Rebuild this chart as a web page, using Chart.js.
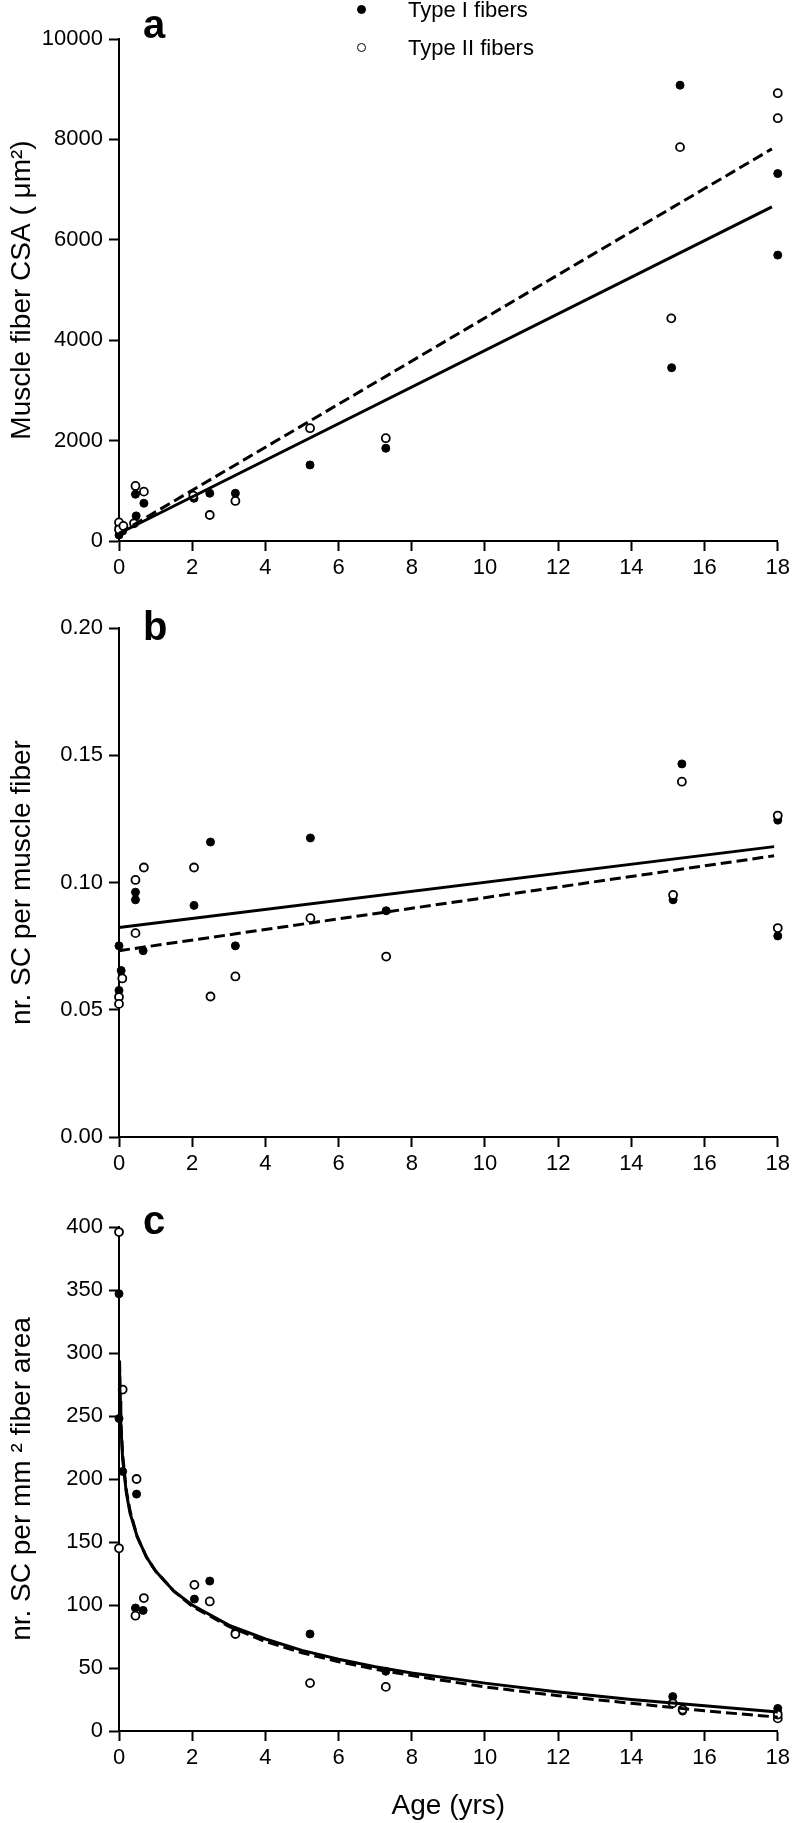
<!DOCTYPE html>
<html><head><meta charset="utf-8">
<script src="https://cdn.jsdelivr.net/npm/chart.js@4.4.1/dist/chart.umd.min.js"></script>
<style>
html,body{margin:0;padding:0;background:#fff;}
body{width:794px;height:1823px;position:relative;overflow:hidden;font-family:'Liberation Sans',Arial,sans-serif;color:#000;}
canvas{position:absolute;left:0;}
.plet{position:absolute;left:143px;font-weight:bold;font-size:40px;line-height:40px;}
.leg{position:absolute;left:408px;font-size:22px;line-height:22px;white-space:nowrap;}
.mk{position:absolute;width:9px;height:9px;border-radius:50%;box-sizing:border-box;border:1.8px solid #000;}
</style></head><body>
<canvas id="ca" width="794" height="600" style="top:0px"></canvas>
<canvas id="cb" width="794" height="580" style="top:600px"></canvas>
<canvas id="cc" width="794" height="643" style="top:1180px"></canvas>
<div class="plet" style="top:4px">a</div>
<div class="plet" style="top:606px">b</div>
<div class="plet" style="top:1200px">c</div>
<div class="mk" style="left:357px;top:5px;background:#000"></div>
<div class="leg" style="top:-1px">Type I fibers</div>
<div class="mk" style="left:357px;top:43px;background:#fff"></div>
<div class="leg" style="top:37px">Type II fibers</div>
<script>
// ---- Panel a: muscle fiber CSA ----
const ageA_I  = [0, 0, 0.1, 0.45, 0.47, 0.68, 2.05, 2.48, 3.18, 5.22, 7.29, 15.1, 15.33, 18, 18];
const csaI    = [120, 280, 200, 931, 500, 752, 851, 951, 951, 1515, 1848, 3452, 9080, 7320, 5695];
const ageA_II = [0, 0, 0.12, 0.45, 0.41, 0.68, 2.03, 2.48, 3.18, 5.22, 7.29, 15.09, 15.33, 18, 18];
const csaII   = [370, 230, 300, 1097, 353, 983, 903, 518, 798, 2247, 2048, 4435, 7846, 8921, 8423];
const fitA_x  = [0, 17.84];
const fitA_I  = [150, 6657];
const fitA_II = [150, 7811];

// ---- Panel b: SC per muscle fiber ----
const ageB_I  = [0, 0, 0.06, 0.45, 0.45, 0.66, 2.05, 2.5, 3.18, 5.23, 7.3, 15.14, 15.38, 18, 18];
const scI     = [0.0751, 0.0576, 0.0654, 0.0962, 0.0932, 0.0732, 0.091, 0.1159, 0.0751, 0.1175, 0.0889, 0.0932, 0.1466, 0.1245, 0.079];
const ageB_II = [0, 0, 0.09, 0.45, 0.45, 0.68, 2.05, 2.5, 3.18, 5.23, 7.3, 15.14, 15.38, 18, 18];
const scII    = [0.055, 0.0523, 0.0623, 0.101, 0.0801, 0.1059, 0.1059, 0.0552, 0.0631, 0.086, 0.0709, 0.0951, 0.1396, 0.1263, 0.0821];
const fitB_x  = [0, 17.9];
const fitB_I  = [0.0823, 0.1141];
const fitB_II = [0.0732, 0.1105];

// ---- Panel c: SC per mm2 fiber area ----
const ageC_I  = [0, 0, 0.1, 0.48, 0.45, 0.66, 2.06, 2.48, 3.18, 5.22, 7.29, 15.13, 15.4, 18, 18];
const densI   = [347, 248, 206, 188, 97.6, 95.7, 104.7, 119, 78.3, 77, 47.4, 27.3, 15.8, 17.9, 14.5];
const ageC_II = [0, 0, 0.1, 0.48, 0.45, 0.68, 2.06, 2.48, 3.18, 5.22, 7.29, 15.13, 15.4, 18, 18];
const densII  = [396, 145, 271, 200, 91.5, 105.5, 116, 102.8, 77, 38, 35, 22, 17, 10, 13];
const fitC_x_I  = [0.015, 0.03, 0.05, 0.1, 0.2, 0.3, 0.5, 0.75, 1, 1.5, 2, 3, 4, 5, 6, 7, 8, 10, 12, 14, 16, 18];
const fitC_I    = [290, 262, 243, 216, 189, 173, 154, 138, 127, 111, 100, 84, 73, 64, 57, 51, 46, 38, 31, 25, 20, 15];
const fitC_x_II = [0.015, 0.03, 0.05, 0.1, 0.2, 0.3, 0.5, 0.75, 1, 1.5, 2, 3, 4, 5, 6, 7, 8, 10, 12, 14, 16, 18];
const fitC_II   = [294, 266, 246, 219, 191, 175, 154, 138, 127, 111, 99, 83, 71, 62, 55, 49, 44, 35, 28, 22, 16, 11];

const xTickStep = 2;
const yTicksA = {min: 0, max: 10000, step: 2000};
const yTicksB = {min: 0, max: 0.20, step: 0.05};
const yTicksC = {min: 0, max: 400, step: 50};

Chart.defaults.font.family = "'Liberation Sans', Arial, sans-serif";
Chart.defaults.color = '#000';

function pts(xs, ys) { return xs.map((x, i) => ({x: x, y: ys[i]})); }

function datasets(x1, y1, x2, y2, fx1, fy1, fx2, fy2) {
  return [
    {label: 'fit I', data: pts(fx1, fy1), showLine: true, pointRadius: 0, borderColor: '#000', borderWidth: 3, fill: false, tension: 0, clip: false},
    {label: 'fit II', data: pts(fx2, fy2), showLine: true, pointRadius: 0, borderColor: '#000', borderWidth: 3, borderDash: [11, 5], fill: false, tension: 0, clip: false},
    {label: 'Type II fibers', data: pts(x2, y2), showLine: false, pointRadius: 4, pointHoverRadius: 4, pointBackgroundColor: '#fff', pointBorderColor: '#000', pointBorderWidth: 1.8, clip: false},
    {label: 'Type I fibers', data: pts(x1, y1), showLine: false, pointRadius: 4, pointHoverRadius: 4, pointBackgroundColor: '#000', pointBorderColor: '#000', pointBorderWidth: 1, clip: false}
  ];
}

function makeChart(id, ds, yt, fmt, yTitle, xTitle, padTop, xHeight) {
  return new Chart(document.getElementById(id), {
    type: 'scatter',
    data: {datasets: ds},
    options: {
      responsive: false, animation: false, devicePixelRatio: 1,
      layout: {padding: {left: 0, right: 14, top: padTop, bottom: 0}},
      plugins: {legend: {display: false}, tooltip: {enabled: false}, title: {display: false}},
      scales: {
        x: {
          type: 'linear', position: 'bottom', min: 0, max: 18,
          ticks: {stepSize: xTickStep, color: '#000', font: {size: 22}, padding: 4, maxRotation: 0, autoSkip: false},
          grid: {display: true, drawOnChartArea: false, drawTicks: true, tickLength: 10, tickWidth: 2, tickColor: '#000'},
          border: {display: true, color: '#000', width: 2},
          title: xTitle ? {display: true, text: xTitle, color: '#000', font: {size: 28}, padding: {top: 0, bottom: 0}} : {display: false},
          afterFit: s => { s.height = xHeight; }
        },
        y: {
          type: 'linear', position: 'left', min: yt.min, max: yt.max,
          ticks: {stepSize: yt.step, color: '#000', font: {size: 22}, padding: 6, callback: fmt, autoSkip: false},
          grid: {display: true, drawOnChartArea: false, drawTicks: true, tickLength: 10, tickWidth: 2, tickColor: '#000'},
          border: {display: true, color: '#000', width: 2},
          title: {display: true, text: yTitle, color: '#000', font: {size: 28}, padding: {top: 5, bottom: 0}},
          afterFit: s => { s.width = 119; }
        }
      }
    }
  });
}

makeChart('ca', datasets(ageA_I, csaI, ageA_II, csaII, fitA_x, fitA_I, fitA_x, fitA_II),
  yTicksA, v => String(v), 'Muscle fiber CSA ( \u03bcm\u00b2)', null, 39, 59);
makeChart('cb', datasets(ageB_I, scI, ageB_II, scII, fitB_x, fitB_I, fitB_x, fitB_II),
  yTicksB, v => v.toFixed(2), 'nr. SC per muscle fiber', null, 28, 43);
makeChart('cc', datasets(ageC_I, densI, ageC_II, densII, fitC_x_I, fitC_I, fitC_x_II, fitC_II),
  yTicksC, v => String(v), 'nr. SC per mm \u00b2 fiber area', 'Age (yrs)', 47, 92);
</script>
</body></html>
